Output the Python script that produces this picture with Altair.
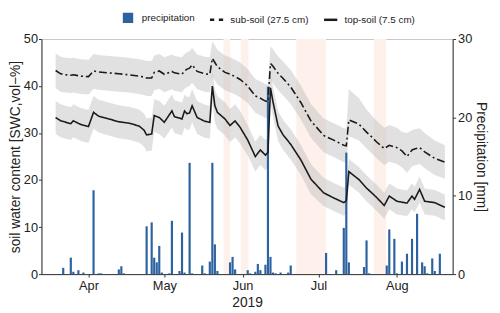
import altair as alt
import pandas as pd

FONT = "Liberation Sans"

# ---- soil water content (vol-%) ----
dates = ["03-19","03-21","03-23","03-25","03-26","03-29","04-01","04-03","04-05","04-09",
         "04-13","04-17","04-21","04-23","04-24","04-26","04-27","04-29","05-01","05-04",
         "05-05","05-08","05-09","05-10","05-11","05-12","05-14","05-17","05-19","05-20",
         "05-21","05-22","05-25","05-27","05-29","05-31","06-03","06-06","06-08","06-10",
         "06-11","06-12","06-13","06-15","06-17","06-20","06-24","06-28","07-03","07-07",
         "07-11","07-12","07-13","07-17","07-20","07-22","07-24","07-27","07-29","08-01",
         "08-03","08-05","08-07","08-08","08-10","08-12","08-16","08-20"]
top_soil = [33.3, 32.6, 32.3, 32.0, 32.6, 31.8, 31.4, 34.4, 33.6, 33.0,
            32.4, 32.1, 31.5, 30.6, 29.6, 29.8, 33.7, 33.3, 32.3, 34.7,
            33.5, 33.0, 34.7, 34.1, 34.3, 35.8, 33.3, 32.5, 32.3, 40.0,
            35.8, 34.4, 33.0, 31.6, 32.6, 31.2, 28.5, 25.0, 26.4, 25.3,
            25.9, 39.6, 36.6, 31.5, 29.6, 27.6, 24.3, 20.2, 17.3, 16.2,
            15.2, 15.6, 21.8, 20.1, 18.3, 17.3, 16.3, 14.6, 16.6, 15.5,
            15.3, 15.1, 16.6, 15.9, 18.0, 15.5, 15.2, 14.2]
sub_soil = [43.3, 42.6, 42.4, 42.3, 42.4, 42.1, 42.0, 43.2, 43.0, 42.8,
            42.6, 42.4, 42.1, 41.9, 41.7, 41.7, 42.9, 43.2, 42.5, 43.1,
            42.8, 42.5, 43.2, 43.6, 43.8, 44.5, 43.1, 42.6, 42.5, 45.9,
            45.0, 44.1, 42.9, 42.5, 42.0, 41.4, 40.0, 37.9, 37.4, 36.8,
            36.7, 44.8, 44.2, 42.7, 41.6, 39.8, 36.5, 32.6, 29.5, 28.5,
            27.4, 27.3, 32.8, 31.9, 30.2, 29.2, 28.1, 26.7, 27.4, 26.9,
            26.2, 25.0, 26.4, 26.6, 26.9, 26.0, 24.6, 23.8]
# spread of the grey uncertainty band below / above each curve
top_dn = [3.5]*36 + [3.2]*12 + [2.8]*20
top_up = [3.5]*36 + [3.2]*16 + [2.7]*16
sub_dn = [3.8]*36 + [3.6]*16 + [3.5]*16
sub_up = [3.6]*52 + [6.5, 5.5, 4.8, 4.6, 4.5, 4.4, 4.3, 4.2, 4.1, 5.0, 4.2, 4.2, 4.1, 4.0, 3.8, 3.6]

# ---- precipitation (mm) ----
rain_dates = ["03-22","03-25","03-26","03-28","03-30","04-03","04-05","04-06","04-13","04-14",
              "04-15","04-24","04-26","04-27","04-28","04-29","04-30","05-03","05-04","05-07",
              "05-08","05-09","05-11","05-12","05-16","05-17","05-19","05-20","05-21","05-22",
              "05-27","05-28","05-29","06-03","06-04","06-06","06-07","06-08","06-10","06-11",
              "06-12","06-13","06-14","06-16","06-19","06-20","07-04","07-08","07-11","07-12",
              "07-13","07-19","07-20","07-21","07-28","07-29","07-31","08-01","08-03","08-05",
              "08-07","08-09","08-11","08-12","08-13","08-15","08-16","08-18"]
rain_mm = [0.8, 2.1, 0.3, 0.5, 0.2, 10.7, 0.1, 0.1, 0.6, 1.0,
           0.1, 6.1, 6.6, 2.1, 1.5, 3.6, 0.2, 0.1, 6.8, 0.4,
           5.3, 0.2, 14.2, 0.1, 1.1, 0.1, 1.6, 14.2, 3.8, 0.4,
           1.5, 2.2, 0.6, 0.5, 0.1, 0.3, 1.3, 0.5, 1.2, 23.9,
           2.2, 0.2, 0.1, 0.2, 0.2, 1.1, 2.7, 0.5, 5.9, 15.5,
           1.5, 0.9, 4.3, 0.1, 1.1, 5.7, 4.5, 0.1, 1.6, 2.6,
           4.5, 7.7, 1.5, 1.0, 0.1, 2.0, 0.4, 2.6]

# ---- shaded periods ----
period_start = ["2019-05-24T10:00:00", "2019-05-31T06:00:00", "2019-06-22T05:00:00", "2019-07-22T22:00:00"]
period_end = ["2019-05-27T02:00:00", "2019-06-03T07:00:00", "2019-07-04T00:00:00", "2019-07-27T20:00:00"]

legend_labels = ["precipitation", "sub-soil (27.5 cm)", "top-soil (7.5 cm)"]

# ---- tables ----
def ts(md):
    return pd.Timestamp("2019-" + md + "T00:00:00")

soil = pd.concat([
    pd.DataFrame({"date": [ts(d) for d in dates], "series": "sub", "val": sub_soil,
                  "lo": [v - d for v, d in zip(sub_soil, sub_dn)],
                  "hi": [v + u for v, u in zip(sub_soil, sub_up)]}),
    pd.DataFrame({"date": [ts(d) for d in dates], "series": "top", "val": top_soil,
                  "lo": [v - d for v, d in zip(top_soil, top_dn)],
                  "hi": [v + u for v, u in zip(top_soil, top_up)]}),
])
rain = pd.DataFrame({"date": [ts(d) for d in rain_dates], "mm": rain_mm})
periods = pd.DataFrame({"date": pd.to_datetime(period_start), "date_end": pd.to_datetime(period_end)})
leg = pd.DataFrame({"s": legend_labels})

xscale = alt.Scale(domain=[alt.DateTime(year=2019, month=3, date=15, hours=8),
                           alt.DateTime(year=2019, month=8, date=21, hours=3)])
xaxis = alt.Axis(values=[alt.DateTime(year=2019, month=m, date=1) for m in [4, 5, 6, 7, 8]],
                 format="%b", title="2019", labelPadding=3, titlePadding=3)
x = alt.X("date:T", scale=xscale, axis=xaxis)

swc_scale = alt.Scale(domain=[0, 50], nice=False)

shade = alt.Chart(periods).mark_rect(color="#fef1ec").encode(
    x=alt.X("date:T", scale=xscale, axis=xaxis), x2="date_end:T")

bands = alt.Chart(soil).mark_area(color="#bdbdbd", opacity=0.45).encode(
    x=x,
    y=alt.Y("lo:Q", scale=swc_scale,
            axis=alt.Axis(orient="left", values=[0, 10, 20, 30, 40, 50],
                          title="soil water content [SWC,vol−%]", titlePadding=1,
                          labelPadding=1)),
    y2="hi:Q",
    detail="series:N")

bars = alt.Chart(rain).mark_bar(size=2.2, color="#2c62a0").encode(
    x=x,
    y=alt.Y("mm:Q", scale=alt.Scale(domain=[0, 30], nice=False),
            axis=alt.Axis(orient="right", values=[0, 10, 20, 30],
                          title="Precipitation [mm]", titlePadding=2)))

lines = alt.Chart(soil).mark_line(color="#1a1a1a", strokeWidth=1.6).encode(
    x=x,
    y=alt.Y("val:Q", scale=swc_scale, axis=None),
    strokeDash=alt.StrokeDash("series:N", scale=alt.Scale(domain=["sub", "top"],
                              range=[[8, 3, 2, 3], [1, 0]]), legend=None))

lg = alt.Legend(title=None, orient="none", legendX=80, legendY=-30, direction="horizontal",
                symbolSize=180, symbolStrokeWidth=2.5, symbolOpacity=1,
                labelFontSize=10, labelFont=FONT, labelColor="#222",
                columnPadding=10, labelOffset=6)
legend_pts = alt.Chart(leg).mark_point(filled=False, opacity=0).encode(
    shape=alt.Shape("s:N", scale=alt.Scale(domain=legend_labels,
                    range=["M-0.6,-0.6H0.6V0.6H-0.6Z", "M-1,0H-0.35M0.35,0H1", "M-1,0H1"]), legend=lg),
    color=alt.Color("s:N", scale=alt.Scale(domain=legend_labels,
                    range=["#2c62a0", "#1a1a1a", "#1a1a1a"]), legend=lg),
    fill=alt.Fill("s:N", scale=alt.Scale(domain=legend_labels,
                  range=["#2c62a0", "transparent", "transparent"]), legend=lg))

chart = alt.layer(shade, bands, bars, lines, legend_pts).resolve_scale(
    y="independent"
).properties(
    width=418, height=239,
    autosize=alt.AutoSizeParams(type="none"),
    padding={"left": 34, "top": 29, "right": 40, "bottom": 36},
).configure_view(
    stroke="#c8c8c8", strokeWidth=1
).configure_axis(
    grid=False, domainColor="#333", tickColor="#333", tickSize=3,
    labelFont=FONT, titleFont=FONT, labelFontSize=13, titleFontSize=14,
    labelColor="#222", titleColor="#222", titleFontWeight="normal", labelPadding=2
)

chart.save("out.html", embed_options={"renderer": "svg", "actions": False})
